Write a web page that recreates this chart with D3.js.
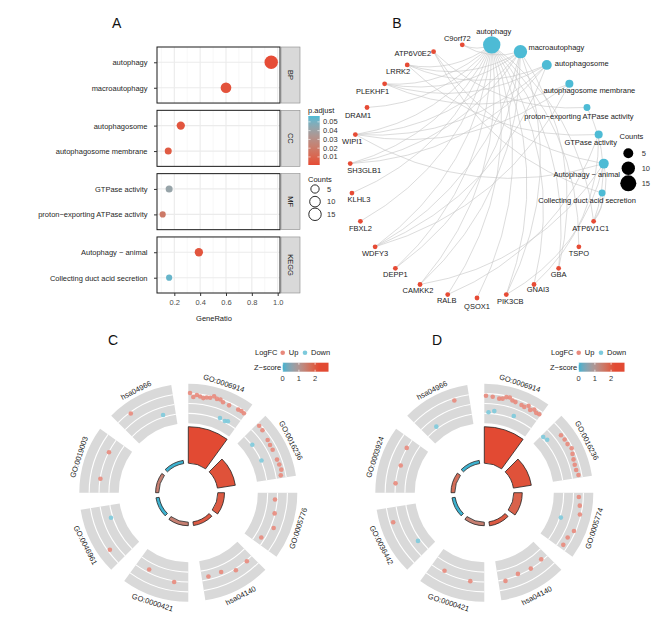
<!DOCTYPE html>
<html><head><meta charset="utf-8">
<script src="https://cdn.jsdelivr.net/npm/d3@7"></script>
<style>
body{margin:0;background:#fff;}
svg{font-family:"Liberation Sans", Arial, sans-serif;}
</style></head>
<body><svg id="fig" width="669" height="617"></svg>
<script>
// ---------------- Panel A data ----------------
const aFacets = ["BP","CC","MF","KEGG"];
const aTerms = ["autophagy","macroautophagy","autophagosome","autophagosome membrane","GTPase activity","proton\u2212exporting ATPase activity","Autophagy \u2212 animal","Collecting duct acid secretion"];
const aFacetOf = ["BP","BP","CC","CC","MF","MF","KEGG","KEGG"];
const aGeneRatio = [0.95,0.60,0.25,0.153,0.16,0.11,0.39,0.16];
const aCount = [18,10,5,3,3,2,5,2];
const aPadj = [0.001,0.003,0.004,0.006,0.042,0.019,0.004,0.053];
const aXTicks = [0.2,0.4,0.6,0.8,1.0];
const padjTicks = [0.01,0.02,0.03,0.04,0.05];
const countTicks = [5,10,15];

// ---------------- Panel B data ----------------
const bCategories = ["autophagy","macroautophagy","autophagosome","autophagosome membrane","proton\u2212exporting ATPase activity","GTPase activity","Autophagy \u2212 animal","Collecting duct acid secretion"];
const bGenes = ["ATP6V1C1","TSPO","GBA","GNAI3","PIK3CB","QSOX1","RALB","CAMKK2","DEPP1","WDFY3","FBXL2","KLHL3","SH3GLB1","WIPI1","DRAM1","PLEKHF1","LRRK2","ATP6V0E2","C9orf72"];
const bMembers = [
  ["ATP6V1C1","TSPO","GBA","GNAI3","PIK3CB","QSOX1","RALB","CAMKK2","DEPP1","WDFY3","FBXL2","KLHL3","SH3GLB1","WIPI1","DRAM1","PLEKHF1","LRRK2","C9orf72"],
  ["C9orf72","LRRK2","PLEKHF1","WIPI1","SH3GLB1","WDFY3","DEPP1","CAMKK2","PIK3CB","GBA"],
  ["WIPI1","WDFY3","PLEKHF1","LRRK2","SH3GLB1"],
  ["WIPI1","WDFY3","PLEKHF1"],
  ["ATP6V0E2","ATP6V1C1"],
  ["RALB","GNAI3","LRRK2"],
  ["WIPI1","PIK3CB","CAMKK2","ATP6V0E2","ATP6V1C1"],
  ["ATP6V0E2","ATP6V1C1"]
];
const bCountTicks = [5,10,15];

// ---------------- Panel C / D data ----------------
const cTerms = ["GO:0006914","GO:0016236","GO:0005776","hsa04140","GO:0000421","GO:0046961","GO:0019003","hsa04966"];
const cBar = [12.5,6.2,2.3,1.3,1.2,1.1,1.1,1.1];
const cLogFC = [
  [1.45,1.1,1.3,1.2,1.1,1.2,1.25,1.45,1.3,1.35,1.2,-0.2,1.15,-0.25,-0.15,1.2,1.25,1.2],
  [1.25,1.2,-0.3,1.05,1.0,1.0,-0.3,1.0,1.05,1.1,0.95],
  [0.32,0.48,0.8,0.2],
  [0.6,0.68,0.22,0.25],
  [0.62,0.25],
  [1.2,-0.18],
  [0.5,0.5],
  [1.28,-0.15]
];
const dTerms = ["GO:0006914","GO:0016236","GO:0005774","hsa04140","GO:0000421","GO:0036442","GO:0003924","hsa04966"];
const dBar = [12.5,6.2,2.9,1.4,1.2,1.1,1.3,1.1];
const dLogFC = [
  [1.2,-0.25,1.15,-0.1,1.05,1.1,1.3,1.35,1.15,1.1,-0.1,1.05,1.0,1.25,1.0,1.2,1.05,1.1],
  [-0.2,-0.1,1.1,1.15,1.15,1.3,1.15,1.05,1.0,1.0,1.1],
  [1.0,1.15,1.3,-0.25,1.25,1.0,1.0],
  [0.38,0.5,0.4,0.65],
  [0.55,0.38],
  [-0.12,1.1],
  [0.52,0.4,0.55],
  [-0.15,1.2]
];
const zTicks = [0,1,2];

// ---------------- common ----------------
const RED = "#E64B35", CYAN = "#4DBBD5";
const FS = 7.5;
const svg = d3.select("#fig");
svg.append("rect").attr("width",669).attr("height",617).attr("fill","#fff");
[["A",116.7,22.5],["B",397,22.5],["C",113,340],["D",437,340]].forEach(([t,x,y])=>{
  svg.append("text").attr("x",x).attr("y",y).attr("text-anchor","middle").attr("dominant-baseline","central")
    .attr("font-size",14).attr("fill","#111").text(t);
});

// =============== Panel A ===============
(function(){
  const g = svg.append("g");
  const x = d3.scaleLinear().domain([0.066,1.018]).range([157,280]);
  const fy = d3.scaleBand().domain(aFacets).range([47,293]).paddingInner(0.115);
  const pColor = d3.scaleLinear().domain([0.0008,0.0567]).range([RED,CYAN]).interpolate(d3.interpolateLab).clamp(true);
  const size = d3.scaleSqrt().domain([0,18]).range([1.3,6.7]);
  const rows = aTerms.map((t,i)=>({t,f:aFacetOf[i],gr:aGeneRatio[i],n:aCount[i],p:aPadj[i]}));
  const majors = aXTicks, minors = [0.1,0.3,0.5,0.7,0.9];
  aFacets.forEach((f,fi)=>{
    const top = fy(f), bw = fy.bandwidth();
    const sub = rows.filter(r=>r.f===f);
    const y = d3.scalePoint().domain(sub.map(r=>r.t)).range([top,top+bw]).padding(0.6);
    const pg = g.append("g");
    pg.append("rect").attr("x",157).attr("y",top).attr("width",123).attr("height",bw).attr("fill","#fff");
    minors.forEach(v=>pg.append("line").attr("x1",x(v)).attr("x2",x(v)).attr("y1",top).attr("y2",top+bw).attr("stroke","#F2F2F2").attr("stroke-width",0.6));
    majors.forEach(v=>pg.append("line").attr("x1",x(v)).attr("x2",x(v)).attr("y1",top).attr("y2",top+bw).attr("stroke","#EBEBEB").attr("stroke-width",1.1));
    sub.forEach(r=>pg.append("line").attr("x1",157).attr("x2",280).attr("y1",y(r.t)).attr("y2",y(r.t)).attr("stroke","#EBEBEB").attr("stroke-width",1.1));
    pg.selectAll("circle.pt").data(sub).join("circle").attr("class","pt")
      .attr("cx",d=>x(d.gr)).attr("cy",d=>y(d.t)).attr("r",d=>size(d.n)).attr("fill",d=>pColor(d.p));
    pg.append("rect").attr("x",157).attr("y",top).attr("width",123).attr("height",bw).attr("fill","none").attr("stroke","#1a1a1a").attr("stroke-width",1);
    // strip
    pg.append("rect").attr("x",281).attr("y",top).attr("width",19).attr("height",bw).attr("fill","#D9D9D9").attr("stroke","#8a8a8a").attr("stroke-width",0.6);
    pg.append("text").attr("transform",`translate(290.5,${top+bw/2}) rotate(90)`).attr("text-anchor","middle")
      .attr("dominant-baseline","central").attr("font-size",FS).attr("fill","#1a1a1a").text(f);
    // y axis
    const ya = pg.append("g").attr("transform","translate(157,0)").call(d3.axisLeft(y).tickSize(3).tickPadding(6.5));
    ya.select(".domain").remove();
    ya.selectAll("line").attr("stroke","#333");
    ya.selectAll("text").attr("font-size",FS).attr("fill","#262626").attr("font-family",null);
    if(fi===aFacets.length-1){
      const xa = pg.append("g").attr("transform",`translate(0,${top+bw})`).call(d3.axisBottom(x).tickValues(aXTicks).tickFormat(d3.format(".1f")).tickSize(3).tickPadding(4));
      xa.select(".domain").remove();
      xa.selectAll("line").attr("stroke","#333");
      xa.selectAll("text").attr("font-size",FS).attr("fill","#4D4D4D").attr("font-family",null);
    }
  });
  g.append("text").attr("x",214).attr("y",318).attr("text-anchor","middle").attr("dominant-baseline","central").attr("font-size",FS).attr("fill","#1a1a1a").text("GeneRatio");
  // p.adjust legend
  g.append("text").attr("x",308).attr("y",112.5).attr("font-size",FS).attr("fill","#1a1a1a").text("p.adjust");
  const ly = d3.scaleLinear().domain([0.0567,0.0008]).range([116,165]);
  const grad = svg.append("defs").append("linearGradient").attr("id","padjGrad").attr("x1",0).attr("y1",0).attr("x2",0).attr("y2",1);
  d3.range(0,1.0001,0.1).forEach(t=>{
    const v = ly.invert(116+t*49);
    grad.append("stop").attr("offset",t).attr("stop-color",pColor(v));
  });
  g.append("rect").attr("x",308.3).attr("y",116).attr("width",11.4).attr("height",49).attr("fill","url(#padjGrad)");
  padjTicks.forEach(v=>{
    g.append("line").attr("x1",308.3).attr("x2",310.6).attr("y1",ly(v)).attr("y2",ly(v)).attr("stroke","#fff").attr("stroke-width",0.6);
    g.append("line").attr("x1",317.4).attr("x2",319.7).attr("y1",ly(v)).attr("y2",ly(v)).attr("stroke","#fff").attr("stroke-width",0.6);
    g.append("text").attr("x",323).attr("y",ly(v)).attr("dominant-baseline","central").attr("font-size",FS).attr("fill","#333").text(v.toFixed(2));
  });
  // counts legend
  g.append("text").attr("x",308).attr("y",181.5).attr("font-size",FS).attr("fill","#1a1a1a").text("Counts");
  const cy = d3.scalePoint().domain(countTicks).range([189,214.3]);
  countTicks.forEach(v=>{
    g.append("circle").attr("cx",315).attr("cy",cy(v)).attr("r",size(v)).attr("fill","none").attr("stroke","#111").attr("stroke-width",0.9);
    g.append("text").attr("x",327).attr("y",cy(v)).attr("dominant-baseline","central").attr("font-size",FS).attr("fill","#333").text(v);
  });
})();

// =============== Panel B ===============
(function(){
  const g = svg.append("g");
  const cx = 477, cy = 171, R = 127;
  const names = bCategories.concat(bGenes);
  const N = names.length;
  const ang = d3.scaleLinear().domain([0,N]).range([0,2*Math.PI]);
  const pos = {};
  names.forEach((nm,i)=>{ const a = ang(i+0.5); pos[nm] = {x: cx + R*Math.sin(a), y: cy - R*Math.cos(a)}; });
  const nodeSize = d3.scaleSqrt().domain([0,18]).range([0.8,8.7]);
  const links = [];
  bCategories.forEach((c,i)=>bMembers[i].forEach(gn=>links.push({s:gn,t:c})));
  const k = 0.22;
  g.append("g").selectAll("path").data(links).join("path")
    .attr("d",d=>{
      const a = pos[d.s], b = pos[d.t];
      const dx = b.x-a.x, dy = b.y-a.y;
      const mx = (a.x+b.x)/2 + (-dy)*k, my = (a.y+b.y)/2 + dx*k;
      return `M${a.x},${a.y}Q${mx},${my} ${b.x},${b.y}`;
    })
    .attr("fill","none").attr("stroke","#C8C8C8").attr("stroke-width",0.75).attr("opacity",0.85);
  // nodes
  bGenes.forEach(gn=>g.append("circle").attr("cx",pos[gn].x).attr("cy",pos[gn].y).attr("r",2.4).attr("fill",RED));
  bCategories.forEach((c,i)=>g.append("circle").attr("cx",pos[c].x).attr("cy",pos[c].y).attr("r",nodeSize(bMembers[i].length)).attr("fill",CYAN));
  // labels (offsets relative to node)
  const nudge = {
    "C9orf72":[-5,-6.5],"ATP6V0E2":[-2.5,1.5,"end"],"LRRK2":[-9,6.7],"PLEKHF1":[-12,7.7],"DRAM1":[-9,8],
    "WIPI1":[-3,6.7],"SH3GLB1":[14,6.7],"KLHL3":[7,6.7],"CAMKK2":[-2,6],"RALB":[-1,5.5],"QSOX1":[0,8],
    "PIK3CB":[4,6.7],"GNAI3":[4,5],"ATP6V1C1":[-3,6.7],
    "autophagy":[2,-13],"macroautophagy":[8,-4,"start"],"autophagosome":[8,-1,"start"],
    "autophagosome membrane":[20,7],"proton\u2212exporting ATPase activity":[-8,9.3],"GTPase activity":[-8,8],
    "Autophagy \u2212 animal":[-17,10.7],"Collecting duct acid secretion":[-15,7.4]
  };
  names.forEach(nm=>{
    const o = nudge[nm] || [0,6.7];
    g.append("text").attr("x",pos[nm].x+o[0]).attr("y",pos[nm].y+o[1]).attr("text-anchor",o[2]||"middle")
      .attr("dominant-baseline","central").attr("font-size",FS).attr("fill","#1a1a1a").text(nm);
  });
  // legend
  g.append("text").attr("x",619.5).attr("y",138.5).attr("font-size",FS).attr("fill","#1a1a1a").text("Counts");
  const ly = d3.scaleLinear().domain([5,15]).range([153.3,183.3]);
  bCountTicks.forEach(v=>{
    g.append("circle").attr("cx",628.3).attr("cy",ly(v)).attr("r",nodeSize(v)).attr("fill","#000");
    g.append("text").attr("x",641.7).attr("y",ly(v)).attr("dominant-baseline","central").attr("font-size",FS).attr("fill","#333").text(v);
  });
})();

// =============== Panels C & D ===============
const zColor = d3.scaleLinear().domain([0,1,2.2]).range(["#3DB2D0","#B09592","#E24A33"]).interpolate(d3.interpolateLab).clamp(true);
const UPC = "#E8897C", DNC = "#7DCADC";
function drawCircle(gid, cx, cy, terms, bars, fcs){
  const g = svg.append("g");
  const n = terms.length, step = 2*Math.PI/n, span = step*0.8;
  const r0 = 29.5, trackIn = 69.5, trackOut = 109;
  const h = d3.scaleLinear().domain([0,d3.max(bars)]).range([0,36.5]);
  const rFC = d3.scaleLinear().domain([-1,2]).range([72,106]);
  const z = fcs.map(a=>(a.filter(v=>v>0).length - a.filter(v=>v<0).length)/Math.sqrt(a.length));
  const arc = d3.arc();
  terms.forEach((t,i)=>{
    const s = i*step, e = s+span;
    g.append("path").attr("transform",`translate(${cx},${cy})`)
      .attr("d",arc({innerRadius:trackIn,outerRadius:trackOut,startAngle:s,endAngle:e})).attr("fill","#D9D9D9");
    [1,2,3].forEach(q=>{
      const rr = trackIn + q*(trackOut-trackIn)/4;
      g.append("path").attr("transform",`translate(${cx},${cy})`)
        .attr("d",d3.arc()({innerRadius:rr,outerRadius:rr,startAngle:s,endAngle:e}))
        .attr("fill","none").attr("stroke","#fff").attr("stroke-width",1.1);
    });
    // bars
    g.append("path").attr("transform",`translate(${cx},${cy})`)
      .attr("d",arc({innerRadius:r0,outerRadius:r0+h(bars[i]),startAngle:s,endAngle:e}))
      .attr("fill",zColor(z[i])).attr("stroke","#222").attr("stroke-width",0.8);
    // points
    const m = fcs[i].length;
    fcs[i].forEach((v,j)=>{
      const a = s + (j+0.5)*span/m, r = rFC(v);
      g.append("circle").attr("cx",cx+r*Math.sin(a)).attr("cy",cy-r*Math.cos(a)).attr("r",2.3)
        .attr("fill",v>0?UPC:DNC).attr("opacity",0.9);
    });
    // label
    const mid = (s+span/2)*180/Math.PI;
    const flip = mid>90 && mid<270;
    const rot = mid<=90 ? mid : (flip ? mid-180 : mid-360);
    const rl = trackOut+3.5, ma = s+span/2;
    const lx = cx+rl*Math.sin(ma), ly = cy-rl*Math.cos(ma);
    g.append("text").attr("x",lx).attr("y",ly).attr("transform",`rotate(${rot},${lx},${ly})`)
      .attr("text-anchor","middle").attr("dominant-baseline",flip?"hanging":"auto")
      .attr("font-size",FS).attr("fill","#1a1a1a").text(t);
  });
  // legend
  const ly0 = cy-140;
  g.append("text").attr("x",cx+66.7).attr("y",ly0).attr("dominant-baseline","central").attr("font-size",FS).attr("fill","#1a1a1a").text("LogFC");
  g.append("circle").attr("cx",cx+94.4).attr("cy",ly0).attr("r",2.3).attr("fill",UPC);
  g.append("text").attr("x",cx+100.5).attr("y",ly0).attr("dominant-baseline","central").attr("font-size",FS).attr("fill","#1a1a1a").text("Up");
  g.append("circle").attr("cx",cx+116.7).attr("cy",ly0).attr("r",2.3).attr("fill",DNC);
  g.append("text").attr("x",cx+122.7).attr("y",ly0).attr("dominant-baseline","central").attr("font-size",FS).attr("fill","#1a1a1a").text("Down");
  const zmax = d3.max(z);
  const zl = d3.scaleLinear().domain([0,zmax]).range([cx+94.4,cx+94.4+16.2*zmax]);
  const grad = svg.append("defs").append("linearGradient").attr("id",gid).attr("x1",0).attr("x2",1).attr("y1",0).attr("y2",0);
  d3.range(0,1.0001,0.05).forEach(t=>grad.append("stop").attr("offset",t).attr("stop-color",zColor(t*zmax)));
  g.append("rect").attr("x",zl(0)).attr("y",cy-130).attr("width",zl(zmax)-zl(0)).attr("height",9).attr("fill",`url(#${gid})`);
  g.append("text").attr("x",cx+93).attr("y",cy-125.5).attr("text-anchor","end").attr("dominant-baseline","central").attr("font-size",FS).attr("fill","#1a1a1a").text("Z\u2212score");
  zTicks.forEach(v=>{
    g.append("line").attr("x1",zl(v)).attr("x2",zl(v)).attr("y1",cy-130).attr("y2",cy-128).attr("stroke","#fff").attr("stroke-width",0.7);
    g.append("line").attr("x1",zl(v)).attr("x2",zl(v)).attr("y1",cy-123).attr("y2",cy-121).attr("stroke","#fff").attr("stroke-width",0.7);
    g.append("text").attr("x",zl(v)).attr("y",cy-114.4).attr("text-anchor","middle").attr("dominant-baseline","central").attr("font-size",FS).attr("fill","#333").text(v);
  });
}
drawCircle("zgC",188.3,492.7,cTerms,cBar,cLogFC);
drawCircle("zgD",484.3,492.7,dTerms,dBar,dLogFC);
</script>
</body></html>
